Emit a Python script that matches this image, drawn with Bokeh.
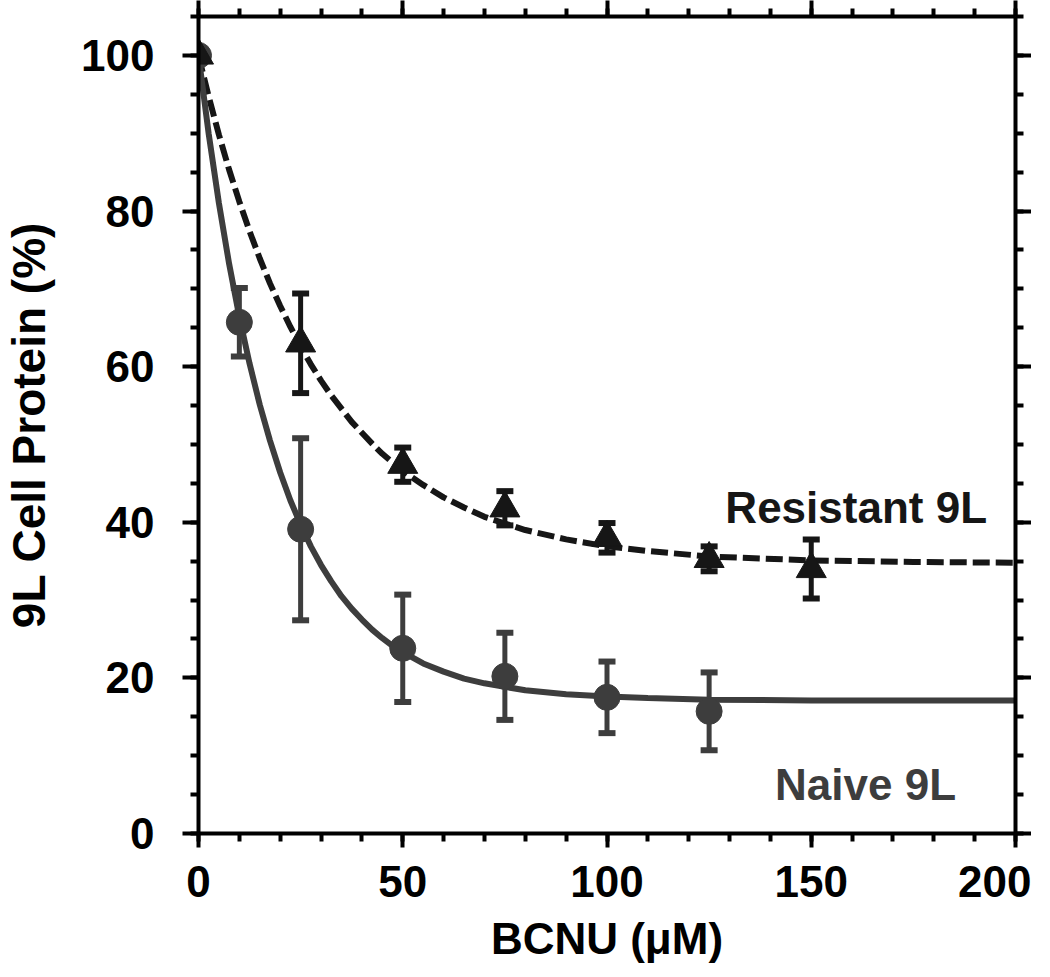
from bokeh.plotting import figure
from bokeh.models import (ColumnDataSource, Whisker, TeeHead, LinearAxis,
                          SingleIntervalTicker, Range1d, CustomJSTickFormatter)
from bokeh.core.properties import value
from bokeh.embed import file_html
from bokeh.resources import INLINE

# ---- data ----
naive_dose = [0, 10, 25, 50, 75, 100, 125]
naive_pct = [100, 65.7, 39.1, 23.8, 20.2, 17.5, 15.7]
naive_sem = [0, 4.4, 11.7, 6.9, 5.6, 4.6, 5.0]

resist_dose = [0, 25, 50, 75, 100, 125, 150]
resist_pct = [100, 63.0, 47.4, 41.8, 38.0, 35.3, 34.0]
resist_sem = [0, 6.4, 2.2, 2.2, 1.9, 1.6, 3.8]

# fitted curves
fit_dose = [0, 2.5, 5, 7.5, 10, 12.5, 15, 17.5, 20, 22.5, 25, 27.5, 30, 32.5,
            35, 37.5, 40, 42.5, 45, 47.5, 50, 55, 60, 65, 70, 80, 90, 100,
            110, 125, 150, 175, 200]
naive_fit = [100, 89.9, 81.0, 73.2, 66.4, 60.4, 55.1, 50.5, 46.4, 42.8, 39.7,
             36.9, 34.5, 32.4, 30.5, 28.9, 27.5, 26.2, 25.1, 24.1, 23.3, 21.85,
             20.8, 19.9, 19.3, 18.4, 17.9, 17.6, 17.4, 17.2, 17.1, 17.1, 17.1]
resist_fit = [100, 94.7, 89.8, 85.3, 81.2, 77.4, 73.9, 70.7, 67.8, 65.1, 62.6,
              60.3, 58.2, 56.3, 54.6, 52.9, 51.5, 50.1, 48.8, 47.7, 46.6, 44.8,
              43.2, 41.9, 40.7, 39.0, 37.8, 36.9, 36.3, 35.6, 35.1, 34.9, 34.8]

label_text = ["Resistant 9L", "Naive 9L"]
label_x = [161, 163.3]
label_y = [41.9, 6.3]

x_title = "BCNU (\u03bcM)"
y_title = "9L Cell Protein (%)"

NAIVE_C = "#3d3d3d"
RESIST_C = "#161616"
FONT = "Liberation Sans"

p = figure(width=1034, height=965, output_backend="svg", toolbar_location=None,
           x_range=Range1d(0, 200), y_range=Range1d(0, 105),
           frame_width=817, frame_height=817,
           min_border_left=10, min_border_right=10, min_border_top=9,
           min_border_bottom=10, x_axis_location=None, y_axis_location=None)
p.outline_line_color = None
p.xgrid.visible = False
p.ygrid.visible = False
p.background_fill_color = "white"
p.border_fill_color = "white"


def style_axis(ax, labels=True):
    ax.axis_line_width = 4
    ax.axis_line_color = "black"
    ax.major_tick_line_width = 4
    ax.minor_tick_line_width = 4
    ax.major_tick_line_color = "black"
    ax.minor_tick_line_color = "black"
    ax.major_tick_in = 0
    ax.minor_tick_in = 0
    ax.major_tick_out = 16
    ax.minor_tick_out = 8
    ax.major_label_text_font = FONT
    ax.major_label_text_font_style = "bold"
    ax.major_label_text_color = "black"
    ax.axis_label_text_font = FONT
    ax.axis_label_text_font_style = "bold"
    ax.axis_label_text_color = "black"
    if labels:
        ax.major_label_text_font_size = "44px"
    else:
        ax.major_label_text_font_size = "0px"
        ax.formatter = CustomJSTickFormatter(code="return '';")
        ax.major_label_standoff = 0


xb = LinearAxis(ticker=SingleIntervalTicker(interval=50, num_minor_ticks=5))
style_axis(xb)
xb.major_tick_out = 14
xb.major_label_standoff = 18
xb.axis_label = x_title
xb.axis_label_text_font_size = "44px"
xb.axis_label_standoff = 14
p.add_layout(xb, "below")

yl = LinearAxis(ticker=SingleIntervalTicker(interval=20, num_minor_ticks=4))
style_axis(yl)
yl.major_label_standoff = 28
yl.axis_label = y_title
yl.axis_label_text_font_size = "46px"
yl.axis_label_standoff = 23
p.add_layout(yl, "left")

xt = LinearAxis(ticker=SingleIntervalTicker(interval=50, num_minor_ticks=5))
style_axis(xt, labels=False)
p.add_layout(xt, "above")

yr = LinearAxis(ticker=SingleIntervalTicker(interval=20, num_minor_ticks=4))
style_axis(yr, labels=False)
p.add_layout(yr, "right")

# fitted curves
p.line(fit_dose, resist_fit, line_color=RESIST_C, line_width=6,
       line_dash="17 6")
p.line(fit_dose, naive_fit, line_color=NAIVE_C, line_width=6)

# error bars
ns = ColumnDataSource(dict(
    x=naive_dose, y=naive_pct,
    up=[v + e for v, e in zip(naive_pct, naive_sem)],
    lo=[v - e for v, e in zip(naive_pct, naive_sem)]))
rs = ColumnDataSource(dict(
    x=resist_dose, y=resist_pct,
    up=[v + e for v, e in zip(resist_pct, resist_sem)],
    lo=[v - e for v, e in zip(resist_pct, resist_sem)]))

for src, col in ((ns, NAIVE_C), (rs, RESIST_C)):
    w = Whisker(source=src, base="x", upper="up", lower="lo",
                line_color=col, line_width=5,
                upper_head=TeeHead(size=17, line_width=6, line_color=col),
                lower_head=TeeHead(size=17, line_width=6, line_color=col))
    p.add_layout(w)

p.scatter("x", "y", source=ns, marker="circle", size=26,
          fill_color=NAIVE_C, line_color=NAIVE_C)
p.scatter("x", "y", source=rs, marker="triangle", size=30,
          fill_color=RESIST_C, line_color=RESIST_C)

p.text(x=label_x, y=label_y, text=label_text,
       text_color=[RESIST_C, NAIVE_C],
       text_font=value(FONT), text_font_style="bold",
       text_font_size="44px", text_align="center",
       text_baseline="alphabetic")

open("out.html", "w").write(file_html(p, INLINE))
